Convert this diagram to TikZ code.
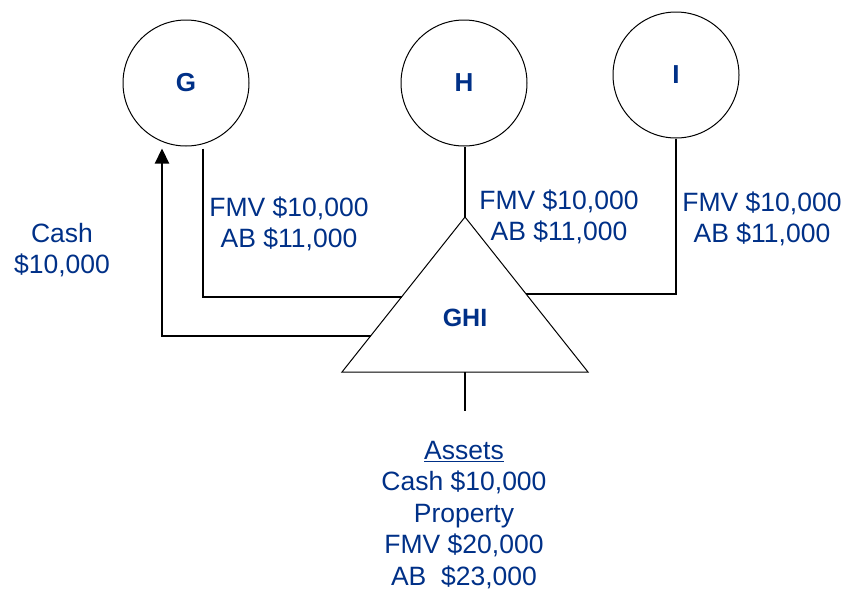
\documentclass[tikz,border=0pt]{standalone}
\usepackage{fontspec}
\setmainfont{Liberation Sans}
\usepackage{tikz}
\usetikzlibrary{calc}
\usetikzlibrary{arrows.meta}
\definecolor{ghiblue}{RGB}{0,48,135}

\begin{document}
\begin{tikzpicture}[x=1pt, y=-1pt,
    partner/.style={draw, circle, line width=1pt, minimum size=126pt, inner sep=0pt,
      text=ghiblue, font=\fontsize{26}{30}\selectfont\bfseries},
    link/.style={line width=2.2pt},
    lbl/.style={align=center, text=ghiblue, inner sep=0pt,
      font=\fontsize{26.5}{31.5}\selectfont}]
          \useasboundingbox (0, 0) rectangle (844, 590);
          % the three partners
          \node [partner] (G) at (186, 83) {G};
          \node [partner] (H) at (464, 83) {H};
          \node [partner] (I) at (676, 75) {I};
          % the partnership
          \coordinate (apex) at (465, 217);
          \coordinate (bl) at (342, 372);
          \coordinate (br) at (588, 372);
          \draw [line width=1pt, line join=miter] (apex) -- (bl) -- (br) -- cycle;
          \node [text=ghiblue, font=\fontsize{25}{30}\selectfont\bfseries] (GHI) at (465, 318) {GHI};
          \coordinate (gin) at ($(bl)!0.484!(apex)$);
          \coordinate (gout) at ($(bl)!0.232!(apex)$);
          \coordinate (iin) at ($(br)!0.503!(apex)$);
          \coordinate (base) at ($(bl)!0.5!(br)$);
          \coordinate (stem) at (465, 411);
          % contributions and the distribution
          \draw [link] ([xshift=17pt, yshift=-2pt]G.south) |- (gin);
          \draw [link, -{Triangle[width=14pt, length=15pt]}] (gout) -| ([xshift=-24pt, yshift=-2pt]G.south);
          \draw [link] ([xshift=1pt]H.south) -- (apex);
          \draw [link] (I.south) |- (iin);
          \draw [link] (base) -- (stem);
          % amounts
          \node [lbl] (gval) at (289, 224) {FMV \$10,000\\AB \$11,000};
          \node [lbl] (hval) at (559, 217) {FMV \$10,000\\AB \$11,000};
          \node [lbl] (ival) at (762, 219) {FMV \$10,000\\AB \$11,000};
          \node [lbl] (cash) at (62, 250) {Cash\\\$10,000};
          \node [lbl] (assets) at (464, 515) {\underline{Assets}\\Cash \$10,000\\Property\\FMV \$20,000\\AB\ \ \$23,000};
        \end{tikzpicture}
\end{document}
